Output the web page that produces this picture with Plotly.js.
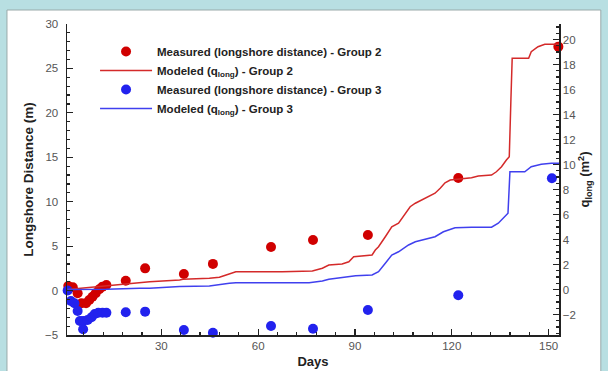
<!DOCTYPE html>
<html>
<head>
<meta charset="utf-8">
<script src="https://cdn.plot.ly/plotly-3.0.1.min.js"></script>
<style>html,body{margin:0;padding:0;background:#b8dfe2;}#chart{width:608px;height:371px;}</style>
</head>
<body>
<div id="chart"></div>
<script>
// Measured longshore distance (m) - Group 2
const measG2Days = [1.2, 2.6, 4.1, 5.3, 6.7, 7.7, 8.7, 9.7, 10.8, 11.8, 13, 19, 25, 37, 46, 64, 77, 94, 122, 153];
const measG2Vals = [0.52, 0.37, -0.3, -1.43, -1.43, -1.06, -0.69, -0.3, 0.15, 0.44, 0.63, 1.11, 2.5, 1.87, 3.0, 4.9, 5.7, 6.26, 12.66, 27.45];
// Measured longshore distance (m) - Group 3
const measG3Days = [1, 2.0, 3.1, 4.1, 4.8, 5.8, 5.8, 7.2, 8.4, 9.4, 10.5, 11.8, 13, 19, 25, 37, 46, 64, 77, 94, 122, 151];
const measG3Vals = [0, -1.17, -1.43, -2.3, -3.42, -3.42, -4.36, -3.31, -3.0, -2.63, -2.49, -2.49, -2.49, -2.44, -2.37, -4.43, -4.74, -3.98, -4.29, -2.18, -0.53, 12.64];
// Modeled q_long (m^2) - Group 2
const modG2Days = [1, 13, 23.3, 26.4, 35.7, 36.7, 44.9, 48, 50.1, 53.1, 67.5, 76.8, 79.9, 81.9, 86, 88.1, 89.6, 95.3, 96.3, 97.3, 99.4, 101.4, 103.5, 105.6, 107.1, 108.7, 110.7, 112.8, 114.8, 116.4, 117.9, 119.5, 122, 126.1, 128.2, 132.3, 133.8, 135.4, 136.9, 137.8, 138.3, 138.7, 143.8, 144.6, 146.7, 148.8, 151.9, 153.2];
const modG2Vals = [0, 0.28, 0.54, 0.62, 0.76, 0.82, 0.9, 0.98, 1.16, 1.42, 1.42, 1.48, 1.7, 1.96, 2.04, 2.22, 2.62, 2.76, 3.16, 3.42, 4.22, 5.02, 5.3, 6.1, 6.62, 6.9, 7.16, 7.42, 7.7, 8.1, 8.54, 8.76, 8.84, 8.94, 9.08, 9.16, 9.42, 9.82, 10.36, 10.62, 15.16, 18.5, 18.5, 19.02, 19.42, 19.62, 19.62, 19.62];
// Modeled q_long (m^2) - Group 3
const modG3Days = [1, 13, 23.3, 26.4, 35.7, 44.9, 51.1, 53.1, 75.8, 79.9, 81.9, 88.1, 90.2, 95.3, 97.3, 99.4, 101.4, 103.5, 106.6, 108.7, 111.8, 114.8, 117.4, 121, 126.1, 132.3, 134.4, 137.4, 138, 142.6, 144.6, 147.7, 150.8, 153.2];
const modG3Vals = [0, 0.02, 0.1, 0.1, 0.25, 0.28, 0.5, 0.54, 0.54, 0.68, 0.82, 1.02, 1.1, 1.16, 1.42, 2.1, 2.76, 3.02, 3.56, 3.82, 4.02, 4.22, 4.62, 4.94, 4.98, 4.98, 5.3, 6.1, 9.42, 9.42, 9.82, 10.02, 10.1, 10.1];

const RED = '#d00000', BLUE = '#2222ee';
const traces = [
  {x: measG2Days, y: measG2Vals, type: 'scatter', mode: 'markers', name: 'Measured (longshore distance) - Group 2',
   marker: {color: RED, size: 10}, cliponaxis: false},
  {x: modG2Days, y: modG2Vals, type: 'scatter', mode: 'lines', yaxis: 'y2', name: 'Modeled (q<sub>long</sub>) - Group 2',
   line: {color: '#d42a2a', width: 1.5}},
  {x: measG3Days, y: measG3Vals, type: 'scatter', mode: 'markers', name: 'Measured (longshore distance) - Group 3',
   marker: {color: BLUE, size: 10}, cliponaxis: false},
  {x: modG3Days, y: modG3Vals, type: 'scatter', mode: 'lines', yaxis: 'y2', name: 'Modeled (q<sub>long</sub>) - Group 3',
   line: {color: '#4040ee', width: 1.5}}
];

const FAM = 'Liberation Sans, Arial, sans-serif';
const tickFont = {family: FAM, size: 11.5, color: '#555'};
const titleFont = {family: FAM, size: 13, color: '#222', weight: 'bold'};

const layout = {
  width: 608, height: 371,
  margin: {l: 67, r: 49, t: 24, b: 36},
  paper_bgcolor: '#b8dfe2',
  plot_bgcolor: 'rgba(0,0,0,0)',
  showlegend: true,
  legend: {x: 0.057, y: 0.958, xanchor: 'left', yanchor: 'top', bgcolor: 'rgba(0,0,0,0)',
           font: {family: FAM, size: 11.5, color: '#222', weight: 'bold'},
           tracegroupgap: 0, itemwidth: 52},
  shapes: [{type: 'rect', xref: 'paper', yref: 'paper', layer: 'below',
            x0: -0.122, x1: 1.085, y0: -0.2, y1: 1.045,
            fillcolor: '#ffffff', line: {color: '#9aa', width: 1}}],
  xaxis: {range: [0.8, 153.2], dtick: 30, tick0: 0, ticks: 'inside', ticklen: 6, tickwidth: 1.2,
          tickcolor: '#222', showline: true, linecolor: '#222', linewidth: 1.5, showgrid: false, zeroline: false,
          tickfont: tickFont, minor: {dtick: 6, ticklen: 3, ticks: 'inside', tickcolor: '#222'},
          title: {text: 'Days', font: titleFont, standoff: 5}},
  yaxis: {range: [-5, 30], dtick: 5, ticks: 'inside', ticklen: 6, tickwidth: 1.2, ticklabelstandoff: 5,
          tickcolor: '#222', showline: true, linecolor: '#222', linewidth: 1.5, showgrid: false, zeroline: false,
          tickfont: tickFont, minor: {dtick: 1, ticklen: 3, ticks: 'inside', tickcolor: '#222'},
          title: {text: 'Longshore Distance (m)', font: {family: FAM, size: 13.5, color: '#222', weight: 'bold'}, standoff: 8}},
  yaxis2: {range: [-3.64, 21.24], dtick: 2, overlaying: 'y', side: 'right', ticks: 'inside', ticklen: 6, tickwidth: 1.2,
          tickcolor: '#222', showline: true, linecolor: '#222', linewidth: 1.5, showgrid: false, zeroline: false,
          tickfont: tickFont, minor: {dtick: 0.5, ticklen: 3, ticks: 'inside', tickcolor: '#222'},
          title: {text: 'q<sub>long</sub> (m<sup>2</sup>)', font: titleFont, standoff: 2}}
};

Plotly.newPlot('chart', traces, layout, {displayModeBar: false, staticPlot: true});
</script>
</body>
</html>
